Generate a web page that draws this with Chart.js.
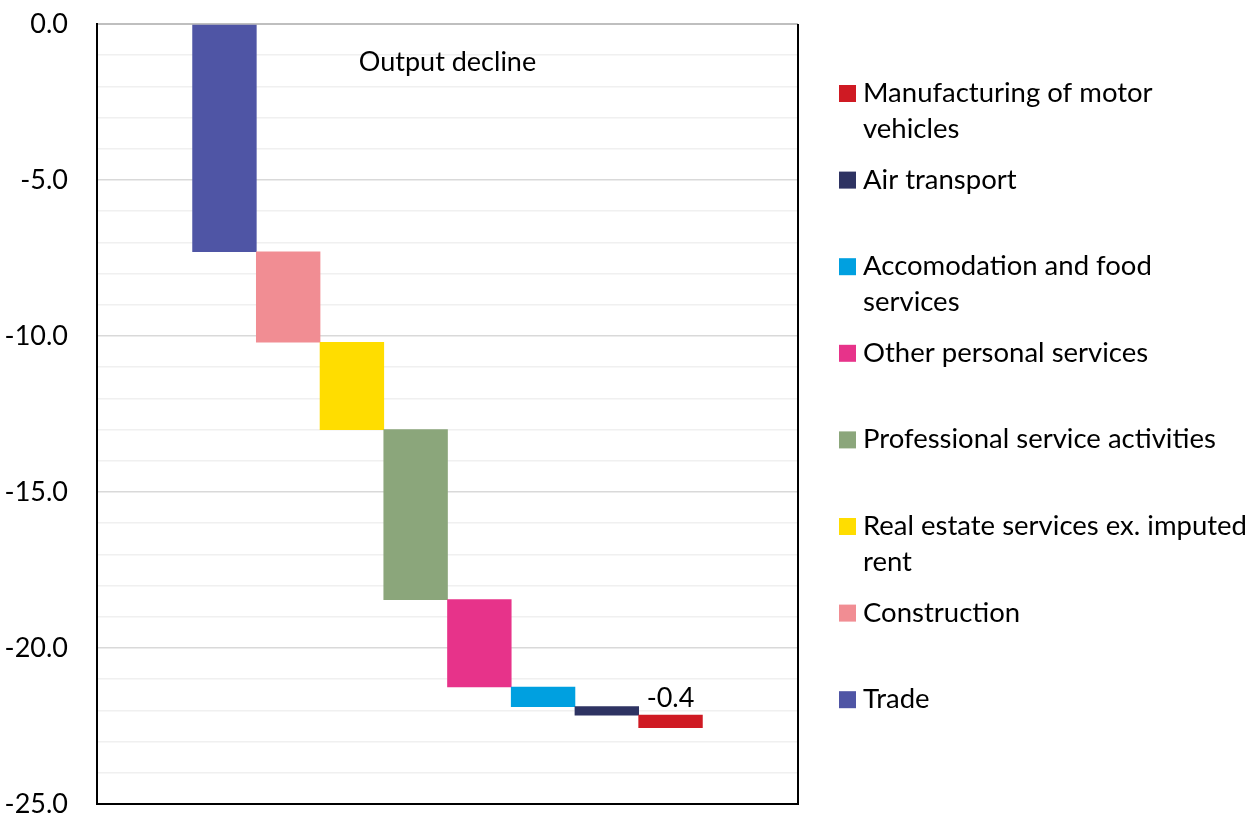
<!DOCTYPE html>
<html>
<head>
<meta charset="utf-8">
<script src="https://cdn.jsdelivr.net/npm/chart.js@4.4.1/dist/chart.umd.min.js"></script>
<style>
  html, body { margin: 0; padding: 0; background: #fff; }
  #wrap { position: relative; width: 1251px; height: 814px; }
</style>
</head>
<body>
<div id="wrap"><canvas id="c" width="1251" height="814"></canvas></div>
<script>
// ---- Data ----
const categories = [
  'Trade',
  'Construction',
  'Real estate services ex. imputed rent',
  'Professional service activities',
  'Other personal services',
  'Accomodation and food services',
  'Air transport',
  'Manufacturing of motor vehicles'
];
const legendLines = [
  ['Trade'],
  ['Construction'],
  ['Real estate services ex. imputed', 'rent'],
  ['Professional service activities'],
  ['Other personal services'],
  ['Accomodation and food', 'services'],
  ['Air transport'],
  ['Manufacturing of motor', 'vehicles']
];
const declines = [-7.3, -2.9, -2.8, -5.45, -2.8, -0.63, -0.27, -0.4];
const positions = [2, 3, 4, 5, 6, 7, 8, 9];
const colors = ['#4F55A5', '#F18D93', '#FFDD00', '#8BA67B', '#E7338A', '#00A0E0', '#2E3362', '#CF1A23'];
const yTicksMajor = [0, -5, -10, -15, -20, -25];
const labelledIndex = 7; // the bar whose value is written
const titleText = 'Output decline';

// cumulative floating bars
const floating = [];
let run = 0;
for (let i = 0; i < declines.length; i++) {
  const start = run;
  run = run + declines[i];
  floating.push({ x: positions[i], y: [start, run] });
}

const FONT = 'Lato';
const FS = 27;
const LEGEND_FS = 27.5;

const decorPlugin = {
  id: 'decor',
  afterDraw(chart) {
    const ctx = chart.ctx;
    const a = chart.chartArea;
    ctx.save();
    // right and bottom frame
    ctx.strokeStyle = '#000';
    ctx.lineWidth = 2;
    ctx.beginPath();
    ctx.moveTo(a.right, a.top);
    ctx.lineTo(a.right, a.bottom);
    ctx.moveTo(a.left - 1, a.bottom);
    ctx.lineTo(a.right + 1, a.bottom);
    ctx.stroke();

    ctx.fillStyle = '#000';
    ctx.font = FS + 'px ' + FONT;
    // title inside plot
    ctx.textAlign = 'center';
    ctx.textBaseline = 'alphabetic';
    ctx.fillText(titleText, 447.5, 71);

    // data label on labelled bar
    const meta = chart.getDatasetMeta(0);
    const bar = meta.data[labelledIndex];
    const top = Math.min(bar.y, bar.base);
    ctx.fillText(declines[labelledIndex].toFixed(1), bar.x, top - 8);

    // legend (reversed order)
    ctx.font = LEGEND_FS + 'px ' + FONT;
    ctx.textAlign = 'left';
    const n = categories.length;
    const base0 = 102, step = 86.6;
    for (let k = 0; k < n; k++) {
      const i = n - 1 - k;
      const by = base0 + k * step;
      ctx.fillStyle = colors[i];
      ctx.fillRect(839, by - 17, 17, 17);
      ctx.fillStyle = '#000';
      legendLines[i].forEach((line, j) => {
        ctx.fillText(line, 863, by + j * 35.5);
      });
    }
    ctx.restore();
  }
};

new Chart(document.getElementById('c'), {
  type: 'bar',
  data: {
    datasets: [{
      label: 'Output decline',
      data: floating,
      backgroundColor: colors,
      borderWidth: 0,
      categoryPercentage: 1,
      barPercentage: 1
    }]
  },
  options: {
    responsive: false,
    animation: false,
    devicePixelRatio: 1,
    layout: { padding: { left: 0, top: 24, right: 453, bottom: 10 } },
    plugins: { legend: { display: false }, tooltip: { enabled: false }, title: { display: false } },
    scales: {
      x: {
        type: 'linear',
        min: 0,
        max: 11,
        offset: false,
        display: false,
        ticks: { stepSize: 1 }
      },
      y: {
        min: -25,
        max: 0,
        afterFit(s) { s.width = 97; s.paddingTop = 0; s.paddingBottom = 0; },
        ticks: {
          stepSize: 1,
          autoSkip: false,
          padding: 29,
          color: '#000',
          font: { family: FONT, size: FS },
          callback(v) { return yTicksMajor.includes(v) ? v.toFixed(1) : ''; }
        },
        grid: {
          drawTicks: false,
          color(ctx) {
            const v = ctx.tick.value;
            if (v === 0) return '#BFBFBF';
            return (v % 5 === 0) ? '#D9D9D9' : '#F0F0F0';
          },
          lineWidth(ctx) { return ctx.tick.value === 0 ? 2 : 1.5; }
        },
        border: { color: '#000', width: 2 }
      }
    }
  },
  plugins: [decorPlugin]
});
</script>
</body>
</html>
